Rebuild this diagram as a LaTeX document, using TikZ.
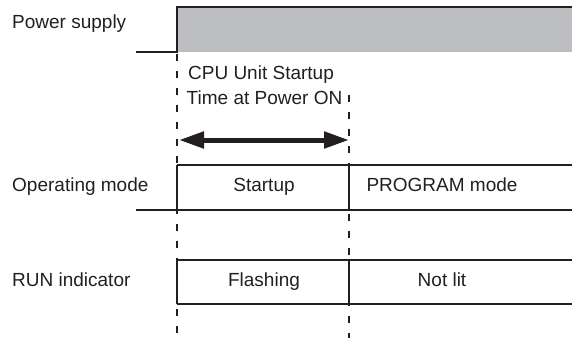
\documentclass[tikz,border=0pt]{standalone}
\usepackage{fontspec}
\setmainfont{Liberation Sans}
\usetikzlibrary{arrows.meta}
\definecolor{psgray}{RGB}{189,190,194}
\definecolor{ink}{RGB}{35,31,32}
\begin{document}
\begin{tikzpicture}[x=1pt,y=-1pt,
  lbl/.style={inner sep=0pt,font=\fontsize{19}{22}\selectfont,text=ink,text height=13.5pt,text depth=4pt},
  edge/.style={draw=ink,line width=1.3pt},
  guide/.style={draw=ink,line width=1.1pt,dash pattern=on 7pt off 10pt},
  span/.style={draw=ink,line width=5pt,{Triangle[length=25pt,width=16pt]}-{Triangle[length=25pt,width=16pt]}}]
\useasboundingbox (0,0) rectangle (572,338);
% coordinates
\coordinate (lowA) at (136,52);
\coordinate (riseA) at (177,52);
\coordinate (topA) at (177,7);
\coordinate (endA) at (572,7);
\coordinate (endAb) at (572,52);
\coordinate (g1top) at (177,54);
\coordinate (g1bot) at (177,338);
\coordinate (g2top) at (349,95);
\coordinate (g2bot) at (349,338);
\coordinate (arL) at (179,140);
\coordinate (arR) at (349,140);
% power supply
\fill[psgray] (topA) rectangle (endAb);
\draw[edge] (lowA) -- (riseA) -- (topA) -- (endA);
% guides
\draw[guide] (g1top) -- (g1bot);
\draw[guide] (g2top) -- (g2bot);
% operating mode
\draw[edge] (136,210) coordinate (lowB) -- (177,210) coordinate (b1) -- (572,210) coordinate (b2);
\draw[edge] (177,165) coordinate (b3) -- (572,165) coordinate (b4);
\draw[edge] (b3) -- (b1);
\draw[edge] (349,165) coordinate (b5) -- (349,210) coordinate (b6);
% run indicator
\draw[edge] (177,260) coordinate (c1) -- (572,260) coordinate (c2);
\draw[edge] (177,304) coordinate (c3) -- (572,304) coordinate (c4);
\draw[edge] (c1) -- (c3);
\draw[edge] (349,260) coordinate (c5) -- (349,304) coordinate (c6);
% arrow
\draw[span] (arL) -- (arR);
% labels
\node[lbl,anchor=west] (ps) at (12,24) {Power supply};
\node[lbl,anchor=west] (om) at (12,187) {Operating mode};
\node[lbl,anchor=west] (ri) at (12,282) {RUN indicator};
\node[lbl] (t1) at (261,75) {CPU Unit Startup};
\node[lbl] (t2) at (264.5,100) {Time at Power ON};
\node[lbl] (su) at (264,187) {Startup};
\node[lbl] (pm) at (442,187) {PROGRAM mode};
\node[lbl] (fl) at (264,282) {Flashing};
\node[lbl] (nl) at (442,282) {Not lit};
\end{tikzpicture}
\end{document}
